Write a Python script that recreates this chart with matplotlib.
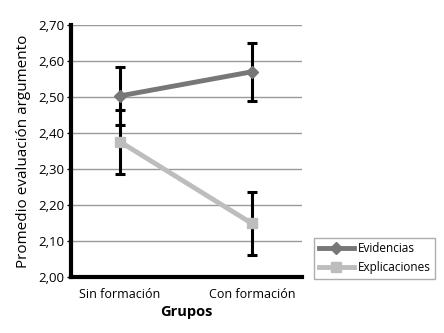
import matplotlib
matplotlib.use("Agg")
import matplotlib.pyplot as plt

plt.rcParams['font.family'] = ['Open Sans', 'DejaVu Sans']

# Datos
grupos = ['Sin formación', 'Con formación']
evidencias = [2.503, 2.570]
evidencias_err = [0.080, 0.080]
explicaciones = [2.376, 2.149]
explicaciones_err = [0.089, 0.088]
yticks = [2.00, 2.10, 2.20, 2.30, 2.40, 2.50, 2.60, 2.70]

fig = plt.figure(figsize=(4.44, 3.33), dpi=100)
ax = fig.add_axes([0.160, 0.168, 0.520, 0.757])

x = list(range(len(grupos)))

# Líneas y barras de error
ax.errorbar(x, evidencias, yerr=evidencias_err, color='#777777', lw=3.5,
            marker='D', markersize=6, ecolor='black', elinewidth=2.2,
            capsize=3.5, capthick=2.2, label='Evidencias', zorder=3)
ax.errorbar(x, explicaciones, yerr=explicaciones_err, color='#bdbdbd', lw=3.5,
            marker='s', markersize=7, ecolor='black', elinewidth=2.2,
            capsize=3.5, capthick=2.2, label='Explicaciones', zorder=2)

ax.set_xlim(-0.37, 1.38)
ax.set_ylim(2.0, 2.7)
ax.set_yticks(yticks)
ax.set_yticklabels([f"{v:.2f}".replace('.', ',') for v in yticks], fontsize=9.5)
ax.set_xticks(x)
ax.set_xticklabels(grupos, fontsize=9)
ax.tick_params(axis='x', length=0, pad=8)
ax.tick_params(axis='y', length=3, width=1, pad=2)

ax.grid(True, axis='y', color='#999999', lw=1)
ax.set_axisbelow(True)
for s in ['top', 'right']:
    ax.spines[s].set_visible(False)
for s in ['left', 'bottom']:
    ax.spines[s].set_linewidth(3)
    ax.spines[s].set_color('black')

ax.set_xlabel('Grupos', fontsize=10.5, fontweight='bold', labelpad=3)
ax.set_ylabel('Promedio evaluación argumento', fontsize=11, labelpad=5)

# Leyenda sin barras de error
h, l = ax.get_legend_handles_labels()
handles = [hh[0] for hh in h]
leg = fig.legend(handles, l, loc='upper left', bbox_to_anchor=(0.707, 0.286),
                 fontsize=8.5, frameon=True, fancybox=False, handlelength=3.0,
                 handletextpad=0.3, borderpad=0.4, labelspacing=0.45,
                 borderaxespad=0)
leg.get_frame().set_edgecolor('#999999')
leg.get_frame().set_linewidth(1)

fig.savefig('out.png', dpi=100)
